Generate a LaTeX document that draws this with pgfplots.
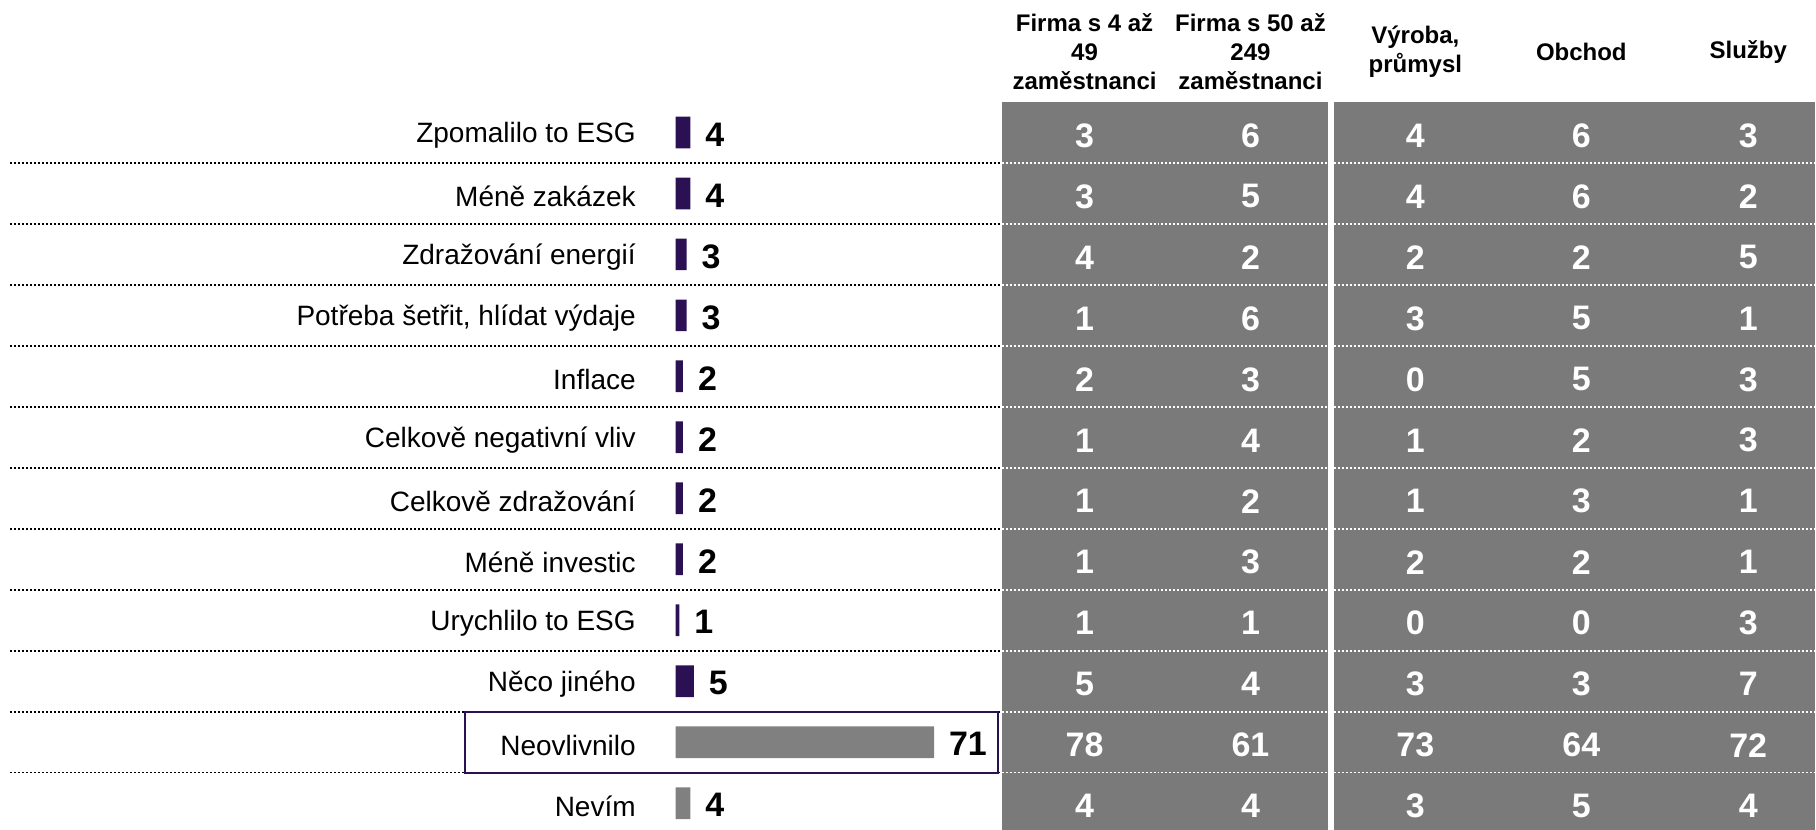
\documentclass[border=0pt]{standalone}
\usepackage{pgfplots}
\usepackage{pgfplotstable}
\pgfplotsset{compat=1.18}
\usepackage{fontspec}
\setmainfont{Liberation Sans}
\definecolor{barpurple}{HTML}{2B1153}
\definecolor{bargray}{HTML}{808080}
\definecolor{panelgray}{HTML}{7A7A7A}
\pgfplotstableread[col sep=semicolon]{
row;total;a;b;c;d;e
1;4;3;6;4;6;3
2;4;3;5;4;6;2
3;3;4;2;2;2;5
4;3;1;6;3;5;1
5;2;2;3;0;5;3
6;2;1;4;1;2;3
7;2;1;2;1;3;1
8;2;1;3;2;2;1
9;1;1;1;0;0;3
10;5;5;4;3;3;7
11;71;78;61;73;64;72
12;4;4;4;3;5;4
}\datatable
\begin{document}
\begin{tikzpicture}
\begin{axis}[at={(0,0)}, anchor=south west, scale only axis, width=908pt, height=415pt,
  xmin=0, xmax=1816, ymin=-1.172, ymax=12.434, y dir=reverse,
  axis lines=none, xtick=\empty, ytick=\empty, clip=false,
  tabnum/.style={draw=none, mark=none, nodes near coords={\pgfplotspointmeta},
    point meta=explicit symbolic,
    every node near coord/.append style={anchor=center, text=white, yshift=-1.5pt,
      font=\bfseries\fontsize{17}{20}\selectfont}}]
\path (axis cs:0,-1.172) rectangle (axis cs:1816,12.434);
\fill[panelgray] (axis cs:1002,0.5) rectangle (axis cs:1329,12.434);
\fill[panelgray] (axis cs:1335,0.5) rectangle (axis cs:1816,12.434);
\pgfplotsinvokeforeach{1.5,2.5,3.5,4.5,5.5,6.5,7.5,8.5,9.5,10.5,11.5}{
  \draw[black, line width=0.8pt, dash pattern=on 1pt off 1pt] (axis cs:10,#1) -- (axis cs:1002,#1);
  \draw[white, line width=0.8pt, dash pattern=on 1pt off 1pt] (axis cs:1002,#1) -- (axis cs:1329,#1);
  \draw[white, line width=0.8pt, dash pattern=on 1pt off 1pt] (axis cs:1335,#1) -- (axis cs:1816,#1);
}
\draw[barpurple, line width=1pt] (axis cs:465,10.5) rectangle (axis cs:998,11.5);
\addplot[tabnum] table[x expr=1085, y=row, meta=a] {\datatable};
\addplot[tabnum] table[x expr=1251, y=row, meta=b] {\datatable};
\addplot[tabnum] table[x expr=1416, y=row, meta=c] {\datatable};
\addplot[tabnum] table[x expr=1582, y=row, meta=d] {\datatable};
\addplot[tabnum] table[x expr=1749, y=row, meta=e] {\datatable};
\begin{scope}[every node/.style={align=center, anchor=center, font=\bfseries\fontsize{12}{14.5}\selectfont}]
\node at (axis cs:1085,-0.32) {Firma s 4 až\\49\\zaměstnanci};
\node at (axis cs:1251,-0.32) {Firma s 50 až\\249\\zaměstnanci};
\node at (axis cs:1416,-0.32) {Výroba,\\průmysl};
\node at (axis cs:1582,-0.32) {Obchod};
\node at (axis cs:1749,-0.32) {Služby};
\end{scope}
\end{axis}
\begin{axis}[at={(338pt,0pt)}, anchor=south west, scale only axis, width=145.6pt, height=415pt,
  xmin=0, xmax=80, ymin=-1.172, ymax=12.434, y dir=reverse, clip=false,
  axis line style={draw=none}, tick style={draw=none}, xtick=\empty,
  ytick={1,2,3,4,5,6,7,8,9,10,11,12},
  yticklabels={Zpomalilo to ESG, Méně zakázek, Zdražování energií, {Potřeba šetřit, hlídat výdaje}, Inflace, Celkově negativní vliv, Celkově zdražování, Méně investic, Urychlilo to ESG, Něco jiného, Neovlivnilo, Nevím},
  yticklabel style={font=\fontsize{14}{17}\selectfont, anchor=east, xshift=-16.5pt, yshift=-1.5pt},
  barval/.style={xbar, bar shift=0pt, bar width=0.52, draw=none,
    nodes near coords={\pgfplotspointmeta}, point meta=explicit symbolic,
    every node near coord/.append style={anchor=west, xshift=4pt, yshift=-1pt, text=black,
      font=\bfseries\fontsize{17}{20}\selectfont}}]
\addplot[barval, fill=barpurple, restrict y to domain=0.5:10.5] table[x=total, y=row, meta=total] {\datatable};
\addplot[barval, fill=bargray, restrict y to domain=10.5:12.5] table[x=total, y=row, meta=total] {\datatable};
\end{axis}
\end{tikzpicture}
\end{document}
